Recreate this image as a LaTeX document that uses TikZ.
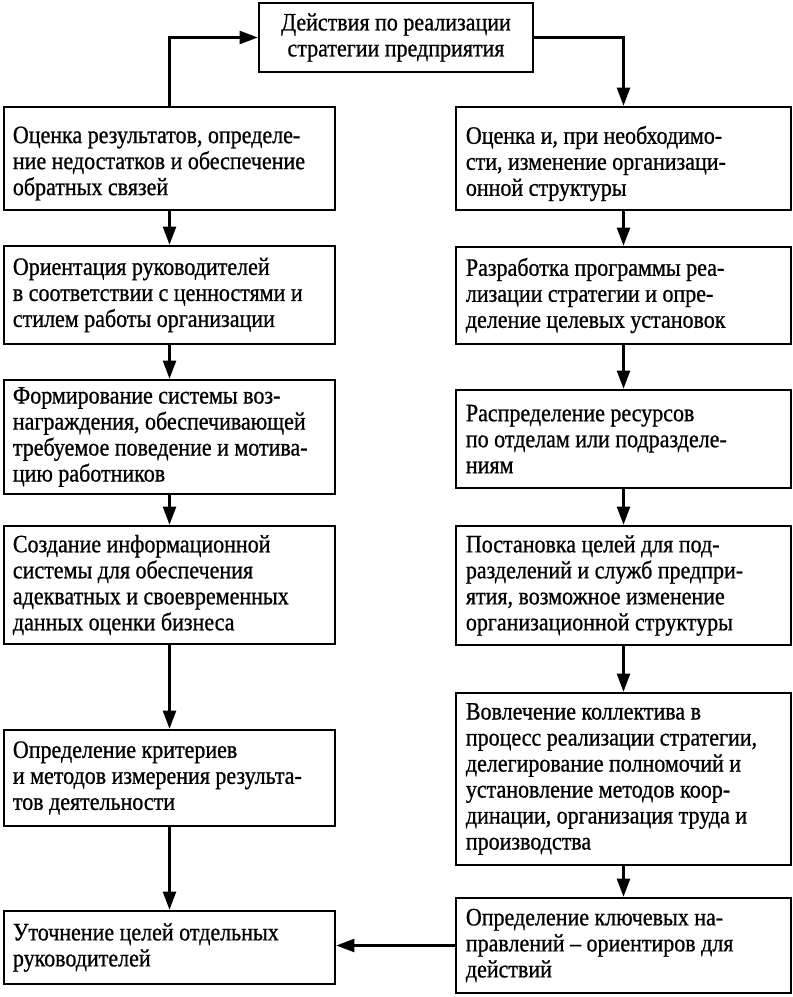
\documentclass[tikz,border=0pt]{standalone}
\usepackage{fontspec}
\setmainfont{Liberation Serif}[FakeStretch=0.88,FakeBold=0.8]
\usetikzlibrary{arrows.meta}
\tikzset{
  box/.style={draw=black, line width=2.6pt, rectangle, inner sep=0pt},
  txt/.style={anchor=west, align=left, inner sep=0pt, font=\fontsize{25}{26}\selectfont},
  arr/.style={line width=2.2pt, -{Triangle[length=18pt,width=13pt]}},
}
\begin{document}
\begin{tikzpicture}[x=1pt,y=-1pt]
\useasboundingbox (0,0) rectangle (793,997);
% top
\node[box, minimum width=274pt, minimum height=69pt, align=center, font=\fontsize{25}{26}\selectfont] (top) at (396,37.5) {Действия по реализации\\стратегии предприятия};
% left column
\node[box, minimum width=331pt, minimum height=103pt] (l1) at (169.5,158.5) {};
\node[box, minimum width=331pt, minimum height=98pt] (l2) at (169.5,295) {};
\node[box, minimum width=331pt, minimum height=114pt] (l3) at (169.5,437) {};
\node[box, minimum width=331pt, minimum height=118pt] (l4) at (169.5,585) {};
\node[box, minimum width=331pt, minimum height=96pt] (l5) at (169.5,778) {};
\node[box, minimum width=331pt, minimum height=73pt] (l6) at (169.5,947.5) {};
% right column
\node[box, minimum width=335pt, minimum height=103pt] (r1) at (623.5,158.5) {};
\node[box, minimum width=335pt, minimum height=97pt] (r2) at (623.5,295.5) {};
\node[box, minimum width=335pt, minimum height=98pt] (r3) at (623.5,439) {};
\node[box, minimum width=335pt, minimum height=119pt] (r4) at (623.5,585.5) {};
\node[box, minimum width=335pt, minimum height=172pt] (r5) at (623.5,779) {};
\node[box, minimum width=335pt, minimum height=95pt] (r6) at (623.5,945.5) {};
% texts
\node[txt] (l1t) at ([xshift=10pt,yshift=-5pt]l1.west) {Оценка результатов, определе-\\ние недостатков и обеспечение\\обратных связей};
\node[txt] (l2t) at ([xshift=10pt]l2.west) {Ориентация руководителей\\в соответствии с ценностями и\\стилем работы организации};
\node[txt] (l3t) at ([xshift=10pt]l3.west) {Формирование системы воз-\\награждения, обеспечивающей\\требуемое поведение и мотива-\\цию работников};
\node[txt] (l4t) at ([xshift=10pt]l4.west) {Создание информационной\\системы для обеспечения\\адекватных и своевременных\\данных оценки бизнеса};
\node[txt] (l5t) at ([xshift=10pt]l5.west) {Определение критериев\\и методов измерения результа-\\тов деятельности};
\node[txt] (l6t) at ([xshift=10pt]l6.west) {Уточнение целей отдельных\\руководителей};
\node[txt] (r1t) at ([xshift=11pt,yshift=-5pt]r1.west) {Оценка и, при необходимо-\\сти, изменение организаци-\\онной структуры};
\node[txt] (r2t) at ([xshift=11pt]r2.west) {Разработка программы реа-\\лизации стратегии и опре-\\деление целевых установок};
\node[txt] (r3t) at ([xshift=11pt]r3.west) {Распределение ресурсов\\по отделам или подразделе-\\ниям};
\node[txt] (r4t) at ([xshift=11pt]r4.west) {Постановка целей для под-\\разделений и служб предпри-\\ятия, возможное изменение\\организационной структуры};
\node[txt] (r5t) at ([xshift=11pt]r5.west) {Вовлечение коллектива в\\процесс реализации стратегии,\\делегирование полномочий и\\установление методов коор-\\динации, организация труда и\\производства};
\node[txt] (r6t) at ([xshift=11pt]r6.west) {Определение ключевых на-\\правлений – ориентиров для\\действий};
% connectors
\draw[arr] (l1.north) |- (top.west);
\draw[arr] (top.east) -| (r1.north);
\draw[arr] (l1.south) -- (l2.north);
\draw[arr] (l2.south) -- (l3.north);
\draw[arr] (l3.south) -- (l4.north);
\draw[arr] (l4.south) -- (l5.north);
\draw[arr] (l5.south) -- (l6.north);
\draw[arr] (r1.south) -- (r2.north);
\draw[arr] (r2.south) -- (r3.north);
\draw[arr] (r3.south) -- (r4.north);
\draw[arr] (r4.south) -- (r5.north);
\draw[arr] (r5.south) -- (r6.north);
\draw[arr] (r6.west) -- (r6.west -| l6.east);
\end{tikzpicture}
\end{document}
